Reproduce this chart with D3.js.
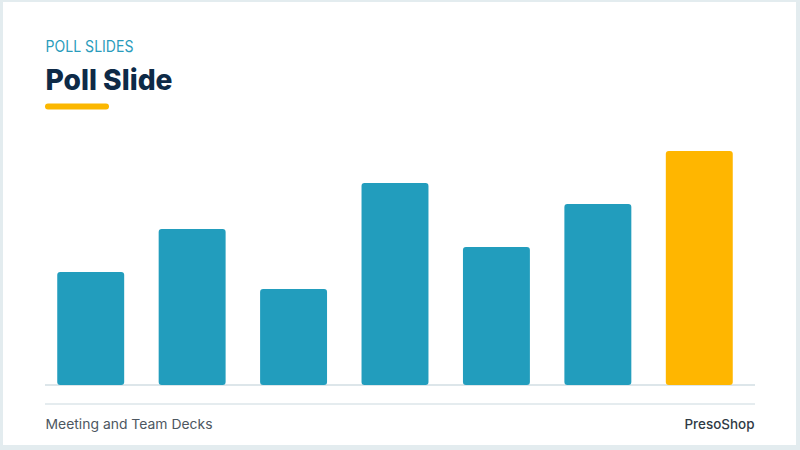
<!DOCTYPE html>
<html>
<head>
<meta charset="utf-8">
<script src="https://cdn.jsdelivr.net/npm/d3@7"></script>
<style>
  html, body { margin: 0; padding: 0; background: #e3ecef; }
  svg { display: block; }
</style>
</head>
<body>
<svg id="chart" width="800" height="450"></svg>
<script>
// ---- data ----
const categories = ["Option 1", "Option 2", "Option 3", "Option 4", "Option 5", "Option 6", "Option 7"];
const values = [48.3, 66.7, 41.0, 86.3, 59.0, 77.4, 100];
const highlight = [false, false, false, false, false, false, true];
const eyebrow = "POLL SLIDES";
const title = "Poll Slide";
const footerLeft = "Meeting and Team Decks";
const footerRight = "PresoShop";

// ---- layout ----
const W = 800, H = 450;
const font = "Inter, 'Open Sans', sans-serif";
const svg = d3.select("#chart");

// card
svg.append("rect").attr("x", 0).attr("y", 0).attr("width", W).attr("height", H).attr("fill", "#e3ecef");
svg.append("rect").attr("x", 3).attr("y", 2).attr("width", 793).attr("height", 443).attr("fill", "#ffffff");

// header
svg.append("text").attr("x", 45.5).attr("y", 52)
  .attr("font-family", font).attr("font-size", 15.5).attr("fill", "#2a9cbc")
  .attr("textLength", 88).attr("lengthAdjust", "spacingAndGlyphs")
  .text(eyebrow);
svg.append("text").attr("x", 45.5).attr("y", 90)
  .attr("font-family", font).attr("font-size", 29).attr("font-weight", 800).attr("fill", "#0e2a47")
  .attr("textLength", 127).attr("lengthAdjust", "spacingAndGlyphs")
  .text(title);
svg.append("rect").attr("x", 45).attr("y", 103.5).attr("width", 64).attr("height", 6).attr("rx", 3)
  .attr("fill", "#fbb700");

// scales
const x = d3.scaleBand().domain(categories).range([40, 750]).paddingInner(0.34).paddingOuter(0.17);
const y = d3.scaleLinear().domain([0, 100]).range([385, 151]);

// baseline
svg.append("line").attr("x1", 45).attr("x2", 755).attr("y1", 385).attr("y2", 385)
  .attr("stroke", "#dde6ea").attr("stroke-width", 2);

// bars
svg.append("g").selectAll("path").data(categories).join("path")
  .attr("fill", (d, i) => highlight[i] ? "#ffb600" : "#229dbd")
  .attr("d", (d, i) => {
    const x0 = x(d), w = x.bandwidth(), y0 = y(values[i]), y1 = y(0), r = 3;
    return `M${x0},${y1 - r} L${x0},${y0 + r} Q${x0},${y0} ${x0 + r},${y0} L${x0 + w - r},${y0} Q${x0 + w},${y0} ${x0 + w},${y0 + r} L${x0 + w},${y1 - r} Q${x0 + w},${y1} ${x0 + w - r},${y1} L${x0 + r},${y1} Q${x0},${y1} ${x0},${y1 - r} Z`;
  });

// footer
svg.append("line").attr("x1", 45).attr("x2", 755).attr("y1", 404).attr("y2", 404)
  .attr("stroke", "#dde6ea").attr("stroke-width", 1.5);
svg.append("text").attr("x", 45.5).attr("y", 428.5)
  .attr("font-family", font).attr("font-size", 13.5).attr("fill", "#4d5761")
  .attr("textLength", 167).attr("lengthAdjust", "spacingAndGlyphs")
  .text(footerLeft);
svg.append("text").attr("x", 684.5).attr("y", 428.5)
  .attr("font-family", font).attr("font-size", 13.5).attr("font-weight", 500).attr("fill", "#2f3a45")
  .attr("textLength", 70).attr("lengthAdjust", "spacingAndGlyphs")
  .text(footerRight);
</script>
</body>
</html>
